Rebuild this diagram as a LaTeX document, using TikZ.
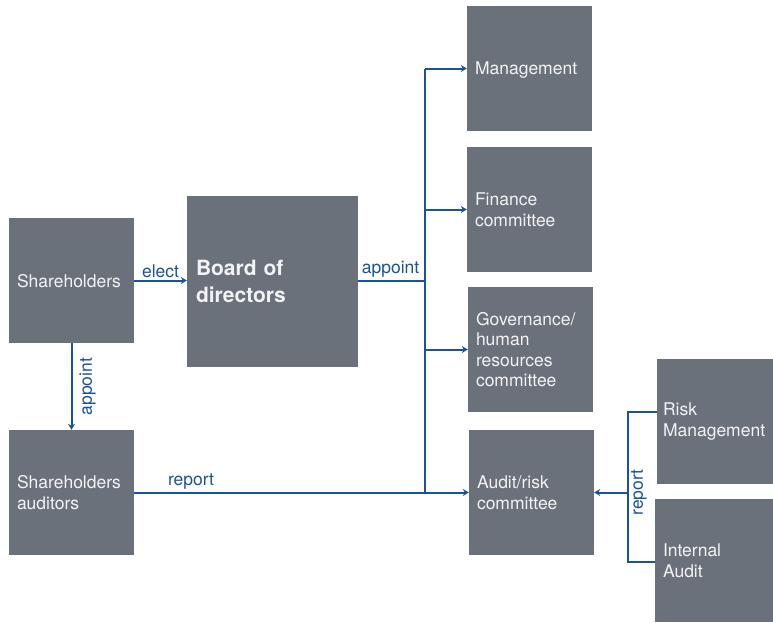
\documentclass[tikz,border=0pt]{standalone}
\usepackage{fontspec}
\setmainfont{TeX Gyre Heros}
\usetikzlibrary{arrows.meta,calc}
\definecolor{boxgray}{RGB}{107,113,122}
\definecolor{boxtext}{RGB}{242,243,245}
\definecolor{linkblue}{RGB}{28,82,150}
\begin{document}
\begin{tikzpicture}[x=1pt,y=-1pt,
  box/.style={fill=boxgray, text=boxtext, align=left, inner ysep=0pt,
    font=\fontsize{17.5}{20.5}\selectfont},
  sq/.style={box, inner xsep=8pt, text width=109pt, minimum height=125pt},
  link/.style={draw=linkblue, line width=2pt},
  arr/.style={link, -{Stealth[length=6pt,width=7pt]}},
  lbl/.style={text=linkblue, font=\fontsize{17.5}{20}\selectfont, inner sep=2pt}]
\useasboundingbox (0,0) rectangle (773,622);

% boxes
\node[sq, text depth=0pt] (sh) at (71.5,280.5) {Shareholders};
\node[sq] (sa) at (71.5,492.5) {Shareholders\\auditors};
\node[box, inner xsep=9pt, text width=153pt, minimum height=171pt,
  font=\bfseries\fontsize{21}{27}\selectfont] (bd) at (272.5,281.5) {Board of\\directors};
\node[sq, text depth=0pt] (mg) at (529.5,68.5) {Management};
\node[sq] (fc) at (529.5,209.5) {Finance\\committee};
\node[sq] (gv) at (530.5,349.5) {Governance/\\human\\resources\\committee};
\node[sq] (au) at (531.5,492.5) {Audit/risk\\committee};
\node[box, inner xsep=6pt, text width=104pt, minimum height=125pt] (rm) at (715,421.5) {Risk\\Management};
\node[box, inner xsep=8pt, text width=102pt, minimum height=123pt] (ia) at (714,560.5) {Internal\\Audit};

% junction points of the connector trees
\coordinate (jt) at (425,68.5);
\coordinate (jb) at (425,492.5);
\coordinate (rt) at (628,412);
\coordinate (rb) at (628,562);

% shareholders
\draw[arr] (sh.east) -- node[lbl, above] {elect} (sh.east -| bd.west);
\draw[arr] (sh.south) -- node[lbl, rotate=90, anchor=north, yshift=-5pt] {appoint} (sa.north);

% board appoints the committees
\draw[link] (bd.east |- sh.east) -- node[lbl, above, xshift=-1pt] {appoint} (sh.east -| jt);
\draw[link] (jt) -- (jb);
\draw[arr] (jt) -- (mg.west);
\draw[arr] (jt |- fc.west) -- (fc.west);
\draw[arr] (jt |- gv.west) -- (gv.west);

% reporting lines
\draw[arr] (sa.east) -- node[lbl, above, pos=0.17] {report} (au.west);
\draw[link] (rm.west |- rt) -- (rt) -- (rb) -- (ia.west |- rb);
\draw[arr] (rt |- au.east) -- (au.east);
\node[lbl, rotate=90, anchor=north, inner sep=2pt] (rl) at ($(rt |- au.east)+(1,0)$) {report};
\end{tikzpicture}
\end{document}
